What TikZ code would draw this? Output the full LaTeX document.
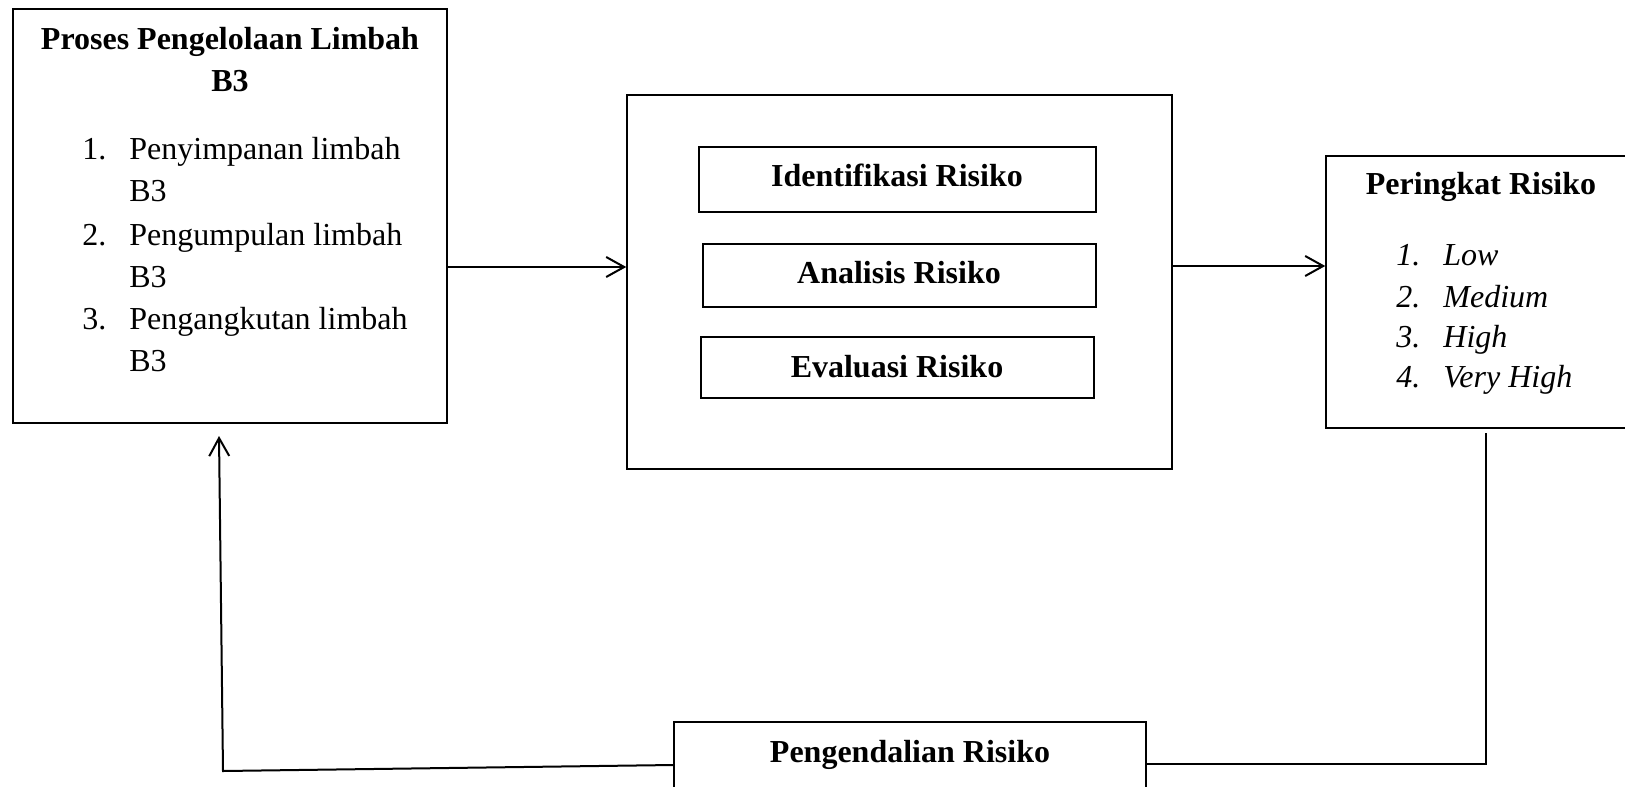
\documentclass[tikz,border=0pt]{standalone}
\usepackage{fontspec}
\setmainfont{Liberation Serif}
\usetikzlibrary{arrows.meta,fit}
\begin{document}
\begin{tikzpicture}[x=0.5pt,y=-0.5pt,
  box/.style={draw=black, line width=0.75pt, inner sep=0pt, rectangle},
  conn/.style={draw=black, line width=1pt},
  arr/.style={conn, -{Straight Barb[length=9pt,width=10pt,line width=1pt]}},
  txt/.style={inner sep=0pt, font=\fontsize{16}{19}\selectfont},
  bftxt/.style={inner sep=0pt, font=\fontsize{16}{19}\selectfont\bfseries},
  ittxt/.style={inner sep=0pt, font=\fontsize{16}{19}\selectfont\itshape}]
\clip (0,0) rectangle (1625,786);
\fill[white] (0,0) rectangle (1625,786);

% boxes
\node[box, fit={(13,9) (447,423)}] (L) {};
\node[box, fit={(627,95) (1172,469)}] (M) {};
\node[box, fit={(699,147) (1096,212)}] (M1) {};
\node[box, fit={(703,244) (1096,307)}] (M2) {};
\node[box, fit={(701,337) (1094,398)}] (M3) {};
\node[box, fit={(1326,156) (1640,428)}] (P) {};
\node[box, fit={(674,722) (1146,820)}] (C) {};

% left box text
\node[bftxt, anchor=base] (Lt1) at (230,50) {Proses Pengelolaan Limbah};
\node[bftxt, anchor=base] (Lt2) at (230,92) {B3};
\node[txt, anchor=base west] (Ln1) at (82,160) {1.};
\node[txt, anchor=base west] (Li1) at (129,160) {Penyimpanan limbah};
\node[txt, anchor=base west] (Li1b) at (129,202) {B3};
\node[txt, anchor=base west] (Ln2) at (82,245) {2.};
\node[txt, anchor=base west] (Li2) at (129,245) {Pengumpulan limbah};
\node[txt, anchor=base west] (Li2b) at (129,287) {B3};
\node[txt, anchor=base west] (Ln3) at (82,329) {3.};
\node[txt, anchor=base west] (Li3) at (129,329) {Pengangkutan limbah};
\node[txt, anchor=base west] (Li3b) at (129,371) {B3};

% middle texts
\node[bftxt, anchor=base] (M1t) at (897,187) {Identifikasi Risiko};
\node[bftxt, anchor=base] (M2t) at (899,283) {Analisis Risiko};
\node[bftxt, anchor=base] (M3t) at (897,377) {Evaluasi Risiko};

% right box text
\node[bftxt, anchor=base] (Pt) at (1481,195) {Peringkat Risiko};
\node[ittxt, anchor=base west] (Pn1) at (1396,265) {1.};
\node[ittxt, anchor=base west] (Pi1) at (1443,265) {Low};
\node[ittxt, anchor=base west] (Pn2) at (1396,307) {2.};
\node[ittxt, anchor=base west] (Pi2) at (1443,307) {Medium};
\node[ittxt, anchor=base west] (Pn3) at (1396,347) {3.};
\node[ittxt, anchor=base west] (Pi3) at (1443,347) {High};
\node[ittxt, anchor=base west] (Pn4) at (1396,387) {4.};
\node[ittxt, anchor=base west] (Pi4) at (1443,387) {Very High};

% bottom text
\node[bftxt, anchor=base] (Ct) at (910,762) {Pengendalian Risiko};

% connector helper coordinates
\coordinate (a1) at (0,267);
\coordinate (a2) at (0,266);
\coordinate (c1) at (1486,433);
\coordinate (c2) at (1486,764);
\coordinate (c3) at (223,771);
\coordinate (c4) at (0,765);
\coordinate (c5) at (219,436);

\draw[arr] (a1 -| L.east) -- (a1 -| M.west);
\draw[arr] (a2 -| M.east) -- (a2 -| P.west);
\draw[conn] (c1) -- (c2) -- (c2 -| C.east);
\draw[arr] (c4 -| C.west) -- (c3) -- (c5);
\end{tikzpicture}
\end{document}
